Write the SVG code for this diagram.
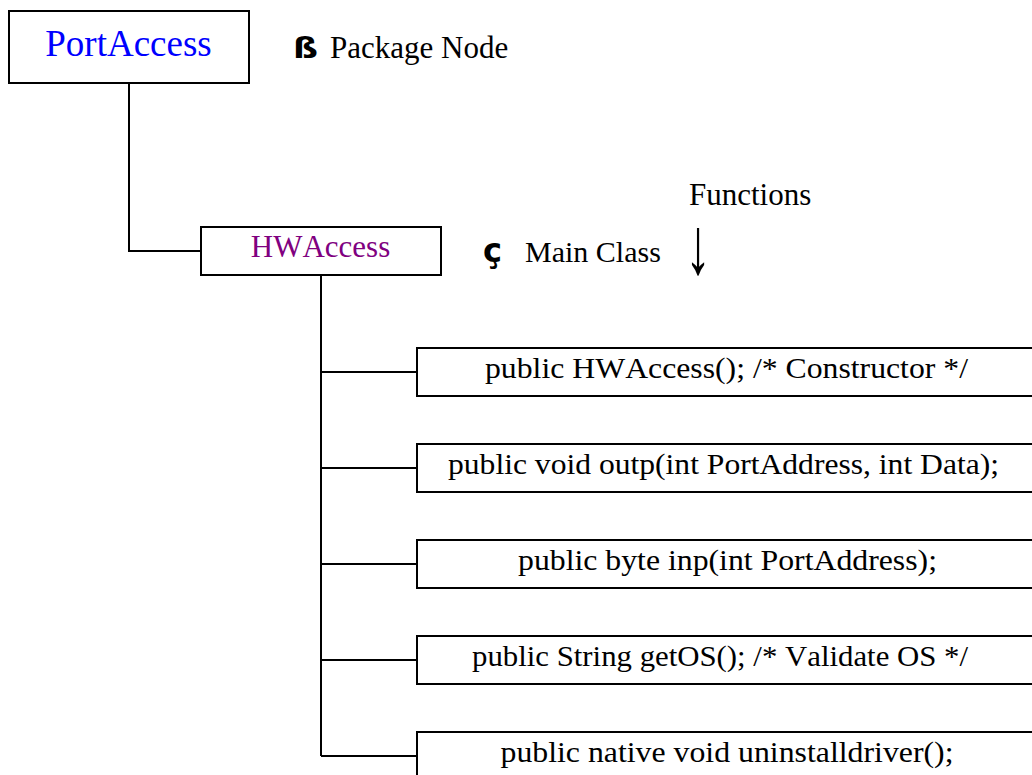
<svg xmlns="http://www.w3.org/2000/svg" width="1032" height="775" viewBox="0 0 1032 775">
<style>
  .box { fill: #ffffff; stroke: #000000; stroke-width: 2; }
  .conn { fill: none; stroke: #000000; stroke-width: 2; }
  text { font-family: "Liberation Serif", "Times New Roman", serif; font-kerning: none; fill: #000000; }
  .fn { font-size: 30px; text-anchor: middle; }
  .lbl { font-size: 31px; }
  .sym { font-family: "DejaVu Sans", "Liberation Sans", sans-serif; font-weight: bold; }
</style>
<rect width="1032" height="775" fill="#ffffff"/>
<g id="connectors">
  <polyline class="conn" points="129,83 129,251 201,251"/>
  <polyline class="conn" points="321,275 321,756"/>
  <line class="conn" x1="321" y1="372" x2="417" y2="372"/>
  <line class="conn" x1="321" y1="468" x2="417" y2="468"/>
  <line class="conn" x1="321" y1="564" x2="417" y2="564"/>
  <line class="conn" x1="321" y1="660" x2="417" y2="660"/>
  <line class="conn" x1="321" y1="756" x2="417" y2="756"/>
</g>
<g id="node-portaccess">
  <rect class="box" x="9" y="11" width="240" height="72"/>
  <text x="128.5" y="56" font-size="37" text-anchor="middle" style="fill:#0000ff">PortAccess</text>
</g>
<g id="label-package">
  <text class="sym" x="293" y="58" style="font-size:29px" textLength="25" lengthAdjust="spacingAndGlyphs">ß</text>
  <text class="lbl" x="330" y="58">Package Node</text>
</g>
<g id="node-hwaccess">
  <rect class="box" x="201" y="227" width="240" height="48"/>
  <text x="320.5" y="257" font-size="31" text-anchor="middle" style="fill:#800080">HWAccess</text>
</g>
<g id="label-mainclass">
  <text class="sym" x="483" y="262" style="font-size:33px" textLength="19" lengthAdjust="spacingAndGlyphs">ç</text>
  <text class="lbl" x="525" y="262" style="font-size:30px">Main Class</text>
</g>
<g id="label-functions">
  <text class="lbl" x="689" y="205">Functions</text>
  <text transform="translate(698,273) scale(1,1.55)" x="0" y="0" font-size="52" text-anchor="middle">↓</text>
</g>
<g id="fn-constructor">
  <rect class="box" x="417" y="348" width="640" height="48"/>
  <text class="fn" x="726.5" y="378" textLength="483" lengthAdjust="spacingAndGlyphs">public HWAccess(); /* Constructor */</text>
</g>
<g id="fn-outp">
  <rect class="box" x="417" y="444" width="640" height="48"/>
  <text class="fn" x="723.5" y="474" textLength="551" lengthAdjust="spacingAndGlyphs">public void outp(int PortAddress, int Data);</text>
</g>
<g id="fn-inp">
  <rect class="box" x="417" y="540" width="640" height="48"/>
  <text class="fn" x="727.5" y="570" textLength="419" lengthAdjust="spacingAndGlyphs">public byte inp(int PortAddress);</text>
</g>
<g id="fn-getos">
  <rect class="box" x="417" y="636" width="640" height="48"/>
  <text class="fn" x="720" y="666" textLength="496" lengthAdjust="spacingAndGlyphs">public String getOS(); /* Validate OS */</text>
</g>
<g id="fn-uninstall">
  <rect class="box" x="417" y="732" width="640" height="60"/>
  <text class="fn" x="727" y="762" textLength="453" lengthAdjust="spacingAndGlyphs">public native void uninstalldriver();</text>
</g>
</svg>
